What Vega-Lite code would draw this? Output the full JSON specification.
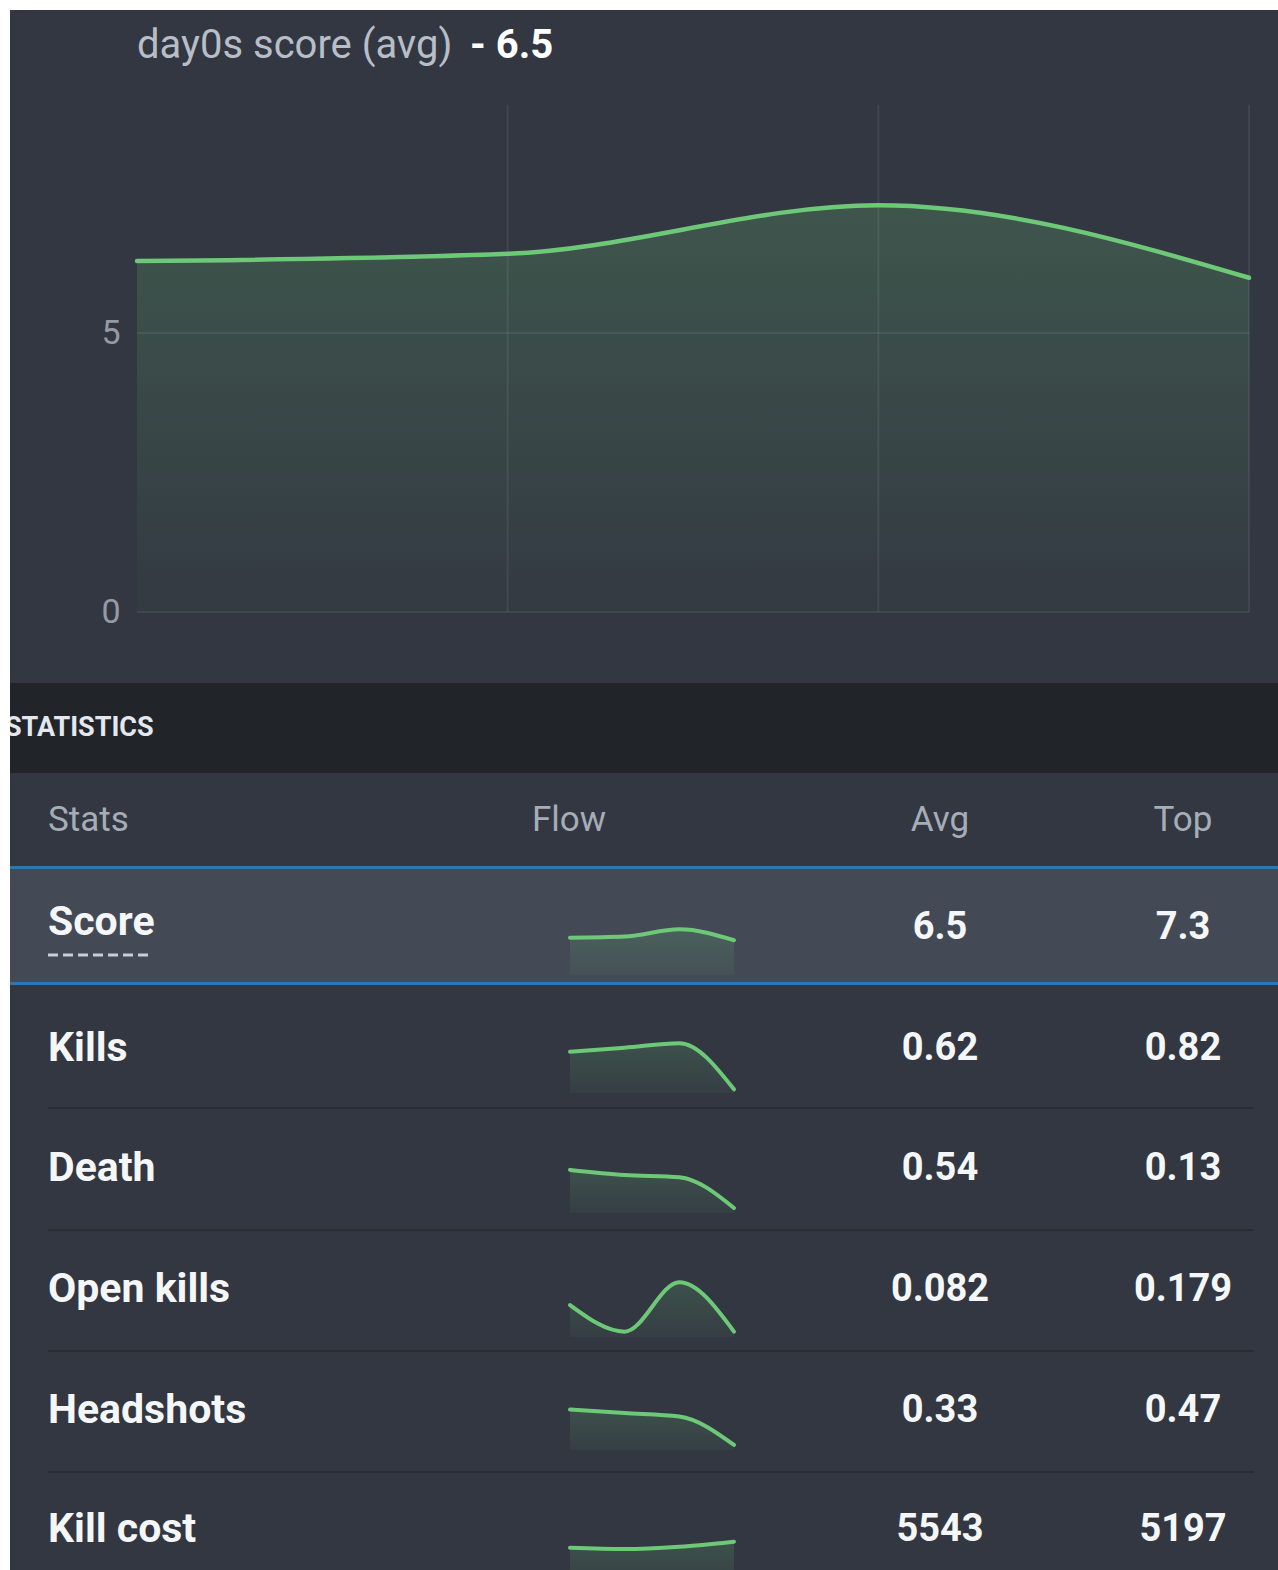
{
  "$schema": "https://vega.github.io/schema/vega-lite/v6.json",
  "background": "#ffffff",
  "padding": {"left": 8, "top": 10, "right": 0, "bottom": 0},
  "spacing": 0,
  "config": {"view": {"stroke": null, "fill": "#323741"}, "concat": {"spacing": 0}},
  "datasets": {
    "heading": [{"name": "day0s score (avg)", "value": "- 6.5"}],
    "score": [{"i": 0, "v": 6.29}, {"i": 1, "v": 6.42}, {"i": 2, "v": 7.29}, {"i": 3, "v": 5.99}],
    "vgrid": [{"g": 1}, {"g": 2}, {"g": 3}],
    "hgrid": [{"h": 0}, {"h": 5}],
    "section": [{"label": "STATISTICS"}],
    "header": [{"stats": "Stats", "flow": "Flow", "avg": "Avg", "top": "Top"}],
    "stats": [
      {"stat": "Score", "avg": "6.5", "top": "7.3"},
      {"stat": "Kills", "avg": "0.62", "top": "0.82"},
      {"stat": "Death", "avg": "0.54", "top": "0.13"},
      {"stat": "Open kills", "avg": "0.082", "top": "0.179"},
      {"stat": "Headshots", "avg": "0.33", "top": "0.47"},
      {"stat": "Kill cost", "avg": "5543", "top": "5197"}
    ],
    "flow": [
      {"stat": "Kills", "i": 0, "v": 0.73}, {"stat": "Kills", "i": 1, "v": 0.8}, {"stat": "Kills", "i": 2, "v": 0.88}, {"stat": "Kills", "i": 3, "v": 0.065},
      {"stat": "Death", "i": 0, "v": 0.77}, {"stat": "Death", "i": 1, "v": 0.68}, {"stat": "Death", "i": 2, "v": 0.64}, {"stat": "Death", "i": 3, "v": 0.09},
      {"stat": "Open kills", "i": 0, "v": 0.108}, {"stat": "Open kills", "i": 1, "v": 0.018}, {"stat": "Open kills", "i": 2, "v": 0.185}, {"stat": "Open kills", "i": 3, "v": 0.018},
      {"stat": "Headshots", "i": 0, "v": 0.46}, {"stat": "Headshots", "i": 1, "v": 0.42}, {"stat": "Headshots", "i": 2, "v": 0.38}, {"stat": "Headshots", "i": 3, "v": 0.057},
      {"stat": "Kill cost", "i": 0, "v": 5365}, {"stat": "Kill cost", "i": 1, "v": 5200}, {"stat": "Kill cost", "i": 2, "v": 5492}, {"stat": "Kill cost", "i": 3, "v": 6126}
    ]
  },
  "vconcat": [
    {
      "width": 1270, "height": 673,
      "layer": [
        {
          "data": {"name": "score"},
          "mark": {"type": "area", "interpolate": "monotone", "color": {"gradient": "linear", "x1": 0, "y1": 0, "x2": 0, "y2": 1, "stops": [{"offset": 0, "color": "rgba(108,199,119,0.21)"}, {"offset": 1, "color": "rgba(108,199,119,0.02)"}]}},
          "encoding": {
            "x": {"field": "i", "type": "quantitative", "scale": {"domain": [-0.3426, 3.0836], "nice": false, "zero": false}, "axis": null},
            "y": {"field": "v", "type": "quantitative", "scale": {"domain": [-1.272, 10.789], "nice": false, "zero": false}, "axis": {"values": [0, 5], "offset": -127, "labelPadding": 17, "ticks": false, "domain": false, "grid": false, "title": null, "labelFont": "Roboto", "labelFontSize": 34, "labelColor": "#949ba5"}},
            "y2": {"datum": 0}
          }
        },
        {
          "data": {"name": "hgrid"},
          "mark": {"type": "rule", "color": "#ffffff", "opacity": 0.07, "strokeWidth": 2},
          "encoding": {
            "y": {"field": "h", "type": "quantitative", "axis": {"values": [0, 5], "offset": -127, "labelPadding": 17, "ticks": false, "domain": false, "grid": false, "title": null, "labelFont": "Roboto", "labelFontSize": 34, "labelColor": "#949ba5"}},
            "x": {"datum": 0, "axis": null},
            "x2": {"datum": 3}
          }
        },
        {
          "data": {"name": "vgrid"},
          "mark": {"type": "rule", "color": "#ffffff", "opacity": 0.07, "strokeWidth": 2},
          "encoding": {
            "x": {"field": "g", "type": "quantitative", "axis": null},
            "y": {"datum": 0, "axis": {"values": [0, 5], "offset": -127, "labelPadding": 17, "ticks": false, "domain": false, "grid": false, "title": null, "labelFont": "Roboto", "labelFontSize": 34, "labelColor": "#949ba5"}},
            "y2": {"datum": 9.09}
          }
        },
        {
          "data": {"name": "score"},
          "mark": {"type": "line", "interpolate": "monotone", "color": "#6dc878", "strokeWidth": 4.5, "strokeCap": "round"},
          "encoding": {
            "x": {"field": "i", "type": "quantitative", "axis": null},
            "y": {"field": "v", "type": "quantitative", "axis": {"values": [0, 5], "offset": -127, "labelPadding": 17, "ticks": false, "domain": false, "grid": false, "title": null, "labelFont": "Roboto", "labelFontSize": 34, "labelColor": "#949ba5"}}
          }
        },
        {
          "data": {"name": "heading"},
          "mark": {"type": "text", "align": "left", "baseline": "alphabetic", "font": "Roboto", "fontSize": 40, "color": "#b8bec7"},
          "encoding": {
            "x": {"datum": 0, "axis": null},
            "y": {"datum": 9.92, "axis": {"values": [0, 5], "offset": -127, "labelPadding": 17, "ticks": false, "domain": false, "grid": false, "title": null, "labelFont": "Roboto", "labelFontSize": 34, "labelColor": "#949ba5"}},
            "text": {"field": "name"}
          }
        },
        {
          "data": {"name": "heading"},
          "mark": {"type": "text", "align": "left", "baseline": "alphabetic", "dx": 333, "font": "Roboto", "fontSize": 40, "fontWeight": "bold", "color": "#ffffff"},
          "encoding": {
            "x": {"datum": 0, "axis": null},
            "y": {"datum": 9.92, "axis": {"values": [0, 5], "offset": -127, "labelPadding": 17, "ticks": false, "domain": false, "grid": false, "title": null, "labelFont": "Roboto", "labelFontSize": 34, "labelColor": "#949ba5"}},
            "text": {"field": "value"}
          }
        }
      ]
    },
    {
      "width": 1270, "height": 90,
      "view": {"fill": "#212429", "stroke": null},
      "data": {"name": "section"},
      "mark": {"type": "text", "align": "left", "baseline": "middle", "dy": 0, "clip": true, "font": "Roboto", "fontSize": 27, "fontWeight": "bold", "color": "#e4e8ee"},
      "encoding": {
        "x": {"datum": 0, "type": "quantitative", "scale": {"domain": [0, 1], "range": [-5, 1265], "nice": false, "zero": false}, "axis": null},
        "text": {"field": "label"}
      }
    },
    {
      "width": 1270, "height": 93,
      "data": {"name": "header"},
      "layer": [
        {"mark": {"type": "text", "align": "left", "baseline": "middle", "dy": 0, "font": "Roboto", "fontSize": 35, "color": "#a6adb7"},
         "encoding": {"x": {"datum": 0, "type": "quantitative", "scale": {"domain": [0, 1, 2, 3, 4], "range": [38, 522, 930, 1173, 1244], "nice": false, "zero": false}, "axis": null}, "text": {"field": "stats"}}},
        {"mark": {"type": "text", "align": "left", "baseline": "middle", "dy": 0, "font": "Roboto", "fontSize": 35, "color": "#a6adb7"},
         "encoding": {"x": {"datum": 1, "type": "quantitative", "axis": null}, "text": {"field": "flow"}}},
        {"mark": {"type": "text", "align": "center", "baseline": "middle", "dy": 0, "font": "Roboto", "fontSize": 35, "color": "#a6adb7"},
         "encoding": {"x": {"datum": 2, "type": "quantitative", "axis": null}, "text": {"field": "avg"}}},
        {"mark": {"type": "text", "align": "center", "baseline": "middle", "dy": 0, "font": "Roboto", "fontSize": 35, "color": "#a6adb7"},
         "encoding": {"x": {"datum": 3, "type": "quantitative", "axis": null}, "text": {"field": "top"}}}
      ]
    },
    {
      "width": 1270, "height": 3,
      "view": {"fill": "#2c78b4", "stroke": null},
      "data": {"values": [{"line": "top"}]},
      "mark": {"type": "rule", "color": "#2c78b4", "strokeWidth": 3},
      "encoding": {"x": {"datum": 0, "type": "quantitative", "scale": {"domain": [0, 1], "range": [0, 1270]}, "axis": null}, "x2": {"datum": 1}}
    },
    {
      "width": 1270, "height": 113,
      "view": {"fill": "#434a55", "stroke": null},
      "layer": [
        {"data": {"name": "stats"}, "transform": [{"filter": "datum.stat === 'Score'"}],
         "mark": {"type": "text", "align": "left", "baseline": "middle", "dy": -3, "font": "Roboto", "fontSize": 41, "fontWeight": "bold", "color": "#f4f6f8"},
         "encoding": {"x": {"datum": 0, "type": "quantitative", "scale": {"domain": [0, 1, 2, 3, 4], "range": [38, 522, 930, 1173, 1244], "nice": false, "zero": false}, "axis": null}, "text": {"field": "stat"}}},
        {"data": {"name": "stats"}, "transform": [{"filter": "datum.stat === 'Score'"}],
         "mark": {"type": "text", "align": "center", "baseline": "middle", "dy": 2, "font": "Roboto", "fontSize": 38, "fontWeight": "bold", "color": "#f4f6f8"},
         "encoding": {"x": {"datum": 2, "type": "quantitative", "scale": {"domain": [0, 1, 2, 3, 4], "range": [38, 522, 930, 1173, 1244], "nice": false, "zero": false}, "axis": null}, "text": {"field": "avg"}}},
        {"data": {"name": "stats"}, "transform": [{"filter": "datum.stat === 'Score'"}],
         "mark": {"type": "text", "align": "center", "baseline": "middle", "dy": 2, "font": "Roboto", "fontSize": 38, "fontWeight": "bold", "color": "#f4f6f8"},
         "encoding": {"x": {"datum": 3, "type": "quantitative", "scale": {"domain": [0, 1, 2, 3, 4], "range": [38, 522, 930, 1173, 1244], "nice": false, "zero": false}, "axis": null}, "text": {"field": "top"}}},
        {"data": {"name": "stats"}, "transform": [{"filter": "datum.stat === 'Score'"}],
         "mark": {"type": "rule", "color": "#c9ced6", "strokeWidth": 3, "strokeDash": [10, 5]},
         "encoding": {"x": {"datum": 0, "type": "quantitative", "scale": {"domain": [0, 1], "range": [38, 142], "nice": false, "zero": false}, "axis": null}, "x2": {"datum": 1},
                      "y": {"datum": 0, "type": "quantitative", "scale": {"domain": [0, 1], "range": [86, 0], "nice": false, "zero": false}, "axis": null}}},
        {"data": {"name": "score"},
         "mark": {"type": "area", "interpolate": "monotone", "color": {"gradient": "linear", "x1": 0, "y1": 0, "x2": 0, "y2": 1, "stops": [{"offset": 0, "color": "rgba(108,199,119,0.18)"}, {"offset": 1, "color": "rgba(108,199,119,0.05)"}]}},
         "encoding": {"x": {"field": "i", "type": "quantitative", "scale": {"domain": [0, 3], "range": [560, 724], "nice": false, "zero": false}, "axis": null},
                      "y": {"field": "v", "type": "quantitative", "scale": {"domain": [1.85, 7.29], "range": [106, 60.3], "nice": false, "zero": false}, "axis": null},
                      "y2": {"datum": 1.85}}},
        {"data": {"name": "score"},
         "mark": {"type": "line", "interpolate": "monotone", "color": "#6dc878", "strokeWidth": 4, "strokeCap": "round"},
         "encoding": {"x": {"field": "i", "type": "quantitative", "scale": {"domain": [0, 3], "range": [560, 724], "nice": false, "zero": false}, "axis": null},
                      "y": {"field": "v", "type": "quantitative", "scale": {"domain": [1.85, 7.29], "range": [106, 60.3], "nice": false, "zero": false}, "axis": null}}}
      ],
      "resolve": {"scale": {"x": "independent", "y": "independent"}}
    },
    {
      "width": 1270, "height": 3,
      "view": {"fill": "#2c78b4", "stroke": null},
      "data": {"values": [{"line": "bottom"}]},
      "mark": {"type": "rule", "color": "#2c78b4", "strokeWidth": 3},
      "encoding": {"x": {"datum": 0, "type": "quantitative", "scale": {"domain": [0, 1], "range": [0, 1270]}, "axis": null}, "x2": {"datum": 1}}
    },
    {
      "width": 1270, "height": 122,
      "layer": [
        {"data": {"name": "stats"}, "transform": [{"filter": "datum.stat === 'Kills'"}],
         "mark": {"type": "text", "align": "left", "baseline": "middle", "dy": 3, "font": "Roboto", "fontSize": 41, "fontWeight": "bold", "color": "#f4f6f8"},
         "encoding": {"x": {"datum": 0, "type": "quantitative", "scale": {"domain": [0, 1, 2, 3, 4], "range": [38, 522, 930, 1173, 1244], "nice": false, "zero": false}, "axis": null}, "text": {"field": "stat"}}},
        {"data": {"name": "stats"}, "transform": [{"filter": "datum.stat === 'Kills'"}],
         "mark": {"type": "text", "align": "center", "baseline": "middle", "dy": 3, "font": "Roboto", "fontSize": 38, "fontWeight": "bold", "color": "#f4f6f8"},
         "encoding": {"x": {"datum": 2, "type": "quantitative", "scale": {"domain": [0, 1, 2, 3, 4], "range": [38, 522, 930, 1173, 1244], "nice": false, "zero": false}, "axis": null}, "text": {"field": "avg"}}},
        {"data": {"name": "stats"}, "transform": [{"filter": "datum.stat === 'Kills'"}],
         "mark": {"type": "text", "align": "center", "baseline": "middle", "dy": 3, "font": "Roboto", "fontSize": 38, "fontWeight": "bold", "color": "#f4f6f8"},
         "encoding": {"x": {"datum": 3, "type": "quantitative", "scale": {"domain": [0, 1, 2, 3, 4], "range": [38, 522, 930, 1173, 1244], "nice": false, "zero": false}, "axis": null}, "text": {"field": "top"}}},
        {"data": {"name": "flow"}, "transform": [{"filter": "datum.stat === 'Kills'"}],
         "mark": {"type": "area", "interpolate": "monotone", "color": {"gradient": "linear", "x1": 0, "y1": 0, "x2": 0, "y2": 1, "stops": [{"offset": 0, "color": "rgba(108,199,119,0.18)"}, {"offset": 1, "color": "rgba(108,199,119,0.05)"}]}},
         "encoding": {"x": {"field": "i", "type": "quantitative", "scale": {"domain": [0, 3], "range": [560, 724], "nice": false, "zero": false}, "axis": null},
                      "y": {"field": "v", "type": "quantitative", "scale": {"domain": [0, 1], "range": [108, 51.4], "nice": false, "zero": false}, "axis": null},
                      "y2": {"datum": 0}}},
        {"data": {"name": "flow"}, "transform": [{"filter": "datum.stat === 'Kills'"}],
         "mark": {"type": "line", "interpolate": "monotone", "color": "#6dc878", "strokeWidth": 4, "strokeCap": "round"},
         "encoding": {"x": {"field": "i", "type": "quantitative", "scale": {"domain": [0, 3], "range": [560, 724], "nice": false, "zero": false}, "axis": null},
                      "y": {"field": "v", "type": "quantitative", "scale": {"domain": [0, 1], "range": [108, 51.4], "nice": false, "zero": false}, "axis": null}}}
      ],
      "resolve": {"scale": {"x": "independent", "y": "independent"}}
    },
    {
      "width": 1270, "height": 2,
      "data": {"values": [{"sep": 1}]},
      "mark": {"type": "rule", "color": "#292d34", "strokeWidth": 2},
      "encoding": {"x": {"datum": 0, "type": "quantitative", "scale": {"domain": [0, 1, 2, 3, 4], "range": [38, 522, 930, 1173, 1244], "nice": false, "zero": false}, "axis": null}, "x2": {"datum": 4}}
    },
    {
      "width": 1270, "height": 120,
      "layer": [
        {"data": {"name": "stats"}, "transform": [{"filter": "datum.stat === 'Death'"}],
         "mark": {"type": "text", "align": "left", "baseline": "middle", "dy": 0, "font": "Roboto", "fontSize": 41, "fontWeight": "bold", "color": "#f4f6f8"},
         "encoding": {"x": {"datum": 0, "type": "quantitative", "scale": {"domain": [0, 1, 2, 3, 4], "range": [38, 522, 930, 1173, 1244], "nice": false, "zero": false}, "axis": null}, "text": {"field": "stat"}}},
        {"data": {"name": "stats"}, "transform": [{"filter": "datum.stat === 'Death'"}],
         "mark": {"type": "text", "align": "center", "baseline": "middle", "dy": 0, "font": "Roboto", "fontSize": 38, "fontWeight": "bold", "color": "#f4f6f8"},
         "encoding": {"x": {"datum": 2, "type": "quantitative", "scale": {"domain": [0, 1, 2, 3, 4], "range": [38, 522, 930, 1173, 1244], "nice": false, "zero": false}, "axis": null}, "text": {"field": "avg"}}},
        {"data": {"name": "stats"}, "transform": [{"filter": "datum.stat === 'Death'"}],
         "mark": {"type": "text", "align": "center", "baseline": "middle", "dy": 0, "font": "Roboto", "fontSize": 38, "fontWeight": "bold", "color": "#f4f6f8"},
         "encoding": {"x": {"datum": 3, "type": "quantitative", "scale": {"domain": [0, 1, 2, 3, 4], "range": [38, 522, 930, 1173, 1244], "nice": false, "zero": false}, "axis": null}, "text": {"field": "top"}}},
        {"data": {"name": "flow"}, "transform": [{"filter": "datum.stat === 'Death'"}],
         "mark": {"type": "area", "interpolate": "monotone", "color": {"gradient": "linear", "x1": 0, "y1": 0, "x2": 0, "y2": 1, "stops": [{"offset": 0, "color": "rgba(108,199,119,0.18)"}, {"offset": 1, "color": "rgba(108,199,119,0.05)"}]}},
         "encoding": {"x": {"field": "i", "type": "quantitative", "scale": {"domain": [0, 3], "range": [560, 724], "nice": false, "zero": false}, "axis": null},
                      "y": {"field": "v", "type": "quantitative", "scale": {"domain": [0, 1], "range": [104, 48], "nice": false, "zero": false}, "axis": null},
                      "y2": {"datum": 0}}},
        {"data": {"name": "flow"}, "transform": [{"filter": "datum.stat === 'Death'"}],
         "mark": {"type": "line", "interpolate": "monotone", "color": "#6dc878", "strokeWidth": 4, "strokeCap": "round"},
         "encoding": {"x": {"field": "i", "type": "quantitative", "scale": {"domain": [0, 3], "range": [560, 724], "nice": false, "zero": false}, "axis": null},
                      "y": {"field": "v", "type": "quantitative", "scale": {"domain": [0, 1], "range": [104, 48], "nice": false, "zero": false}, "axis": null}}}
      ],
      "resolve": {"scale": {"x": "independent", "y": "independent"}}
    },
    {
      "width": 1270, "height": 2,
      "data": {"values": [{"sep": 2}]},
      "mark": {"type": "rule", "color": "#292d34", "strokeWidth": 2},
      "encoding": {"x": {"datum": 0, "type": "quantitative", "scale": {"domain": [0, 1, 2, 3, 4], "range": [38, 522, 930, 1173, 1244], "nice": false, "zero": false}, "axis": null}, "x2": {"datum": 4}}
    },
    {
      "width": 1270, "height": 119,
      "layer": [
        {"data": {"name": "stats"}, "transform": [{"filter": "datum.stat === 'Open kills'"}],
         "mark": {"type": "text", "align": "left", "baseline": "middle", "dy": -1, "font": "Roboto", "fontSize": 41, "fontWeight": "bold", "color": "#f4f6f8"},
         "encoding": {"x": {"datum": 0, "type": "quantitative", "scale": {"domain": [0, 1, 2, 3, 4], "range": [38, 522, 930, 1173, 1244], "nice": false, "zero": false}, "axis": null}, "text": {"field": "stat"}}},
        {"data": {"name": "stats"}, "transform": [{"filter": "datum.stat === 'Open kills'"}],
         "mark": {"type": "text", "align": "center", "baseline": "middle", "dy": -1, "font": "Roboto", "fontSize": 38, "fontWeight": "bold", "color": "#f4f6f8"},
         "encoding": {"x": {"datum": 2, "type": "quantitative", "scale": {"domain": [0, 1, 2, 3, 4], "range": [38, 522, 930, 1173, 1244], "nice": false, "zero": false}, "axis": null}, "text": {"field": "avg"}}},
        {"data": {"name": "stats"}, "transform": [{"filter": "datum.stat === 'Open kills'"}],
         "mark": {"type": "text", "align": "center", "baseline": "middle", "dy": -1, "font": "Roboto", "fontSize": 38, "fontWeight": "bold", "color": "#f4f6f8"},
         "encoding": {"x": {"datum": 3, "type": "quantitative", "scale": {"domain": [0, 1, 2, 3, 4], "range": [38, 522, 930, 1173, 1244], "nice": false, "zero": false}, "axis": null}, "text": {"field": "top"}}},
        {"data": {"name": "flow"}, "transform": [{"filter": "datum.stat === 'Open kills'"}],
         "mark": {"type": "area", "interpolate": "monotone", "color": {"gradient": "linear", "x1": 0, "y1": 0, "x2": 0, "y2": 1, "stops": [{"offset": 0, "color": "rgba(108,199,119,0.18)"}, {"offset": 1, "color": "rgba(108,199,119,0.05)"}]}},
         "encoding": {"x": {"field": "i", "type": "quantitative", "scale": {"domain": [0, 3], "range": [560, 724], "nice": false, "zero": false}, "axis": null},
                      "y": {"field": "v", "type": "quantitative", "scale": {"domain": [0, 0.2], "range": [106, 46.8], "nice": false, "zero": false}, "axis": null},
                      "y2": {"datum": 0}}},
        {"data": {"name": "flow"}, "transform": [{"filter": "datum.stat === 'Open kills'"}],
         "mark": {"type": "line", "interpolate": "monotone", "color": "#6dc878", "strokeWidth": 4, "strokeCap": "round"},
         "encoding": {"x": {"field": "i", "type": "quantitative", "scale": {"domain": [0, 3], "range": [560, 724], "nice": false, "zero": false}, "axis": null},
                      "y": {"field": "v", "type": "quantitative", "scale": {"domain": [0, 0.2], "range": [106, 46.8], "nice": false, "zero": false}, "axis": null}}}
      ],
      "resolve": {"scale": {"x": "independent", "y": "independent"}}
    },
    {
      "width": 1270, "height": 2,
      "data": {"values": [{"sep": 3}]},
      "mark": {"type": "rule", "color": "#292d34", "strokeWidth": 2},
      "encoding": {"x": {"datum": 0, "type": "quantitative", "scale": {"domain": [0, 1, 2, 3, 4], "range": [38, 522, 930, 1173, 1244], "nice": false, "zero": false}, "axis": null}, "x2": {"datum": 4}}
    },
    {
      "width": 1270, "height": 119,
      "layer": [
        {"data": {"name": "stats"}, "transform": [{"filter": "datum.stat === 'Headshots'"}],
         "mark": {"type": "text", "align": "left", "baseline": "middle", "dy": -1, "font": "Roboto", "fontSize": 41, "fontWeight": "bold", "color": "#f4f6f8"},
         "encoding": {"x": {"datum": 0, "type": "quantitative", "scale": {"domain": [0, 1, 2, 3, 4], "range": [38, 522, 930, 1173, 1244], "nice": false, "zero": false}, "axis": null}, "text": {"field": "stat"}}},
        {"data": {"name": "stats"}, "transform": [{"filter": "datum.stat === 'Headshots'"}],
         "mark": {"type": "text", "align": "center", "baseline": "middle", "dy": -1, "font": "Roboto", "fontSize": 38, "fontWeight": "bold", "color": "#f4f6f8"},
         "encoding": {"x": {"datum": 2, "type": "quantitative", "scale": {"domain": [0, 1, 2, 3, 4], "range": [38, 522, 930, 1173, 1244], "nice": false, "zero": false}, "axis": null}, "text": {"field": "avg"}}},
        {"data": {"name": "stats"}, "transform": [{"filter": "datum.stat === 'Headshots'"}],
         "mark": {"type": "text", "align": "center", "baseline": "middle", "dy": -1, "font": "Roboto", "fontSize": 38, "fontWeight": "bold", "color": "#f4f6f8"},
         "encoding": {"x": {"datum": 3, "type": "quantitative", "scale": {"domain": [0, 1, 2, 3, 4], "range": [38, 522, 930, 1173, 1244], "nice": false, "zero": false}, "axis": null}, "text": {"field": "top"}}},
        {"data": {"name": "flow"}, "transform": [{"filter": "datum.stat === 'Headshots'"}],
         "mark": {"type": "area", "interpolate": "monotone", "color": {"gradient": "linear", "x1": 0, "y1": 0, "x2": 0, "y2": 1, "stops": [{"offset": 0, "color": "rgba(108,199,119,0.18)"}, {"offset": 1, "color": "rgba(108,199,119,0.05)"}]}},
         "encoding": {"x": {"field": "i", "type": "quantitative", "scale": {"domain": [0, 3], "range": [560, 724], "nice": false, "zero": false}, "axis": null},
                      "y": {"field": "v", "type": "quantitative", "scale": {"domain": [0, 0.5], "range": [98, 54], "nice": false, "zero": false}, "axis": null},
                      "y2": {"datum": 0}}},
        {"data": {"name": "flow"}, "transform": [{"filter": "datum.stat === 'Headshots'"}],
         "mark": {"type": "line", "interpolate": "monotone", "color": "#6dc878", "strokeWidth": 4, "strokeCap": "round"},
         "encoding": {"x": {"field": "i", "type": "quantitative", "scale": {"domain": [0, 3], "range": [560, 724], "nice": false, "zero": false}, "axis": null},
                      "y": {"field": "v", "type": "quantitative", "scale": {"domain": [0, 0.5], "range": [98, 54], "nice": false, "zero": false}, "axis": null}}}
      ],
      "resolve": {"scale": {"x": "independent", "y": "independent"}}
    },
    {
      "width": 1270, "height": 2,
      "data": {"values": [{"sep": 4}]},
      "mark": {"type": "rule", "color": "#292d34", "strokeWidth": 2},
      "encoding": {"x": {"datum": 0, "type": "quantitative", "scale": {"domain": [0, 1, 2, 3, 4], "range": [38, 522, 930, 1173, 1244], "nice": false, "zero": false}, "axis": null}, "x2": {"datum": 4}}
    },
    {
      "width": 1270, "height": 97,
      "layer": [
        {"data": {"name": "stats"}, "transform": [{"filter": "datum.stat === 'Kill cost'"}],
         "mark": {"type": "text", "align": "left", "baseline": "middle", "dy": 8, "font": "Roboto", "fontSize": 41, "fontWeight": "bold", "color": "#f4f6f8"},
         "encoding": {"x": {"datum": 0, "type": "quantitative", "scale": {"domain": [0, 1, 2, 3, 4], "range": [38, 522, 930, 1173, 1244], "nice": false, "zero": false}, "axis": null}, "text": {"field": "stat"}}},
        {"data": {"name": "stats"}, "transform": [{"filter": "datum.stat === 'Kill cost'"}],
         "mark": {"type": "text", "align": "center", "baseline": "middle", "dy": 8, "font": "Roboto", "fontSize": 38, "fontWeight": "bold", "color": "#f4f6f8"},
         "encoding": {"x": {"datum": 2, "type": "quantitative", "scale": {"domain": [0, 1, 2, 3, 4], "range": [38, 522, 930, 1173, 1244], "nice": false, "zero": false}, "axis": null}, "text": {"field": "avg"}}},
        {"data": {"name": "stats"}, "transform": [{"filter": "datum.stat === 'Kill cost'"}],
         "mark": {"type": "text", "align": "center", "baseline": "middle", "dy": 8, "font": "Roboto", "fontSize": 38, "fontWeight": "bold", "color": "#f4f6f8"},
         "encoding": {"x": {"datum": 3, "type": "quantitative", "scale": {"domain": [0, 1, 2, 3, 4], "range": [38, 522, 930, 1173, 1244], "nice": false, "zero": false}, "axis": null}, "text": {"field": "top"}}},
        {"data": {"name": "flow"}, "transform": [{"filter": "datum.stat === 'Kill cost'"}],
         "mark": {"type": "area", "clip": true, "interpolate": "monotone", "color": {"gradient": "linear", "x1": 0, "y1": 0, "x2": 0, "y2": 1, "stops": [{"offset": 0, "color": "rgba(108,199,119,0.18)"}, {"offset": 1, "color": "rgba(108,199,119,0.05)"}]}},
         "encoding": {"x": {"field": "i", "type": "quantitative", "scale": {"domain": [0, 3], "range": [560, 724], "nice": false, "zero": false}, "axis": null},
                      "y": {"field": "v", "type": "quantitative", "scale": {"domain": [0, 6000], "range": [117, 69.7], "nice": false, "zero": false}, "axis": null},
                      "y2": {"datum": 0}}},
        {"data": {"name": "flow"}, "transform": [{"filter": "datum.stat === 'Kill cost'"}],
         "mark": {"type": "line", "interpolate": "monotone", "color": "#6dc878", "strokeWidth": 4, "strokeCap": "round"},
         "encoding": {"x": {"field": "i", "type": "quantitative", "scale": {"domain": [0, 3], "range": [560, 724], "nice": false, "zero": false}, "axis": null},
                      "y": {"field": "v", "type": "quantitative", "scale": {"domain": [0, 6000], "range": [117, 69.7], "nice": false, "zero": false}, "axis": null}}}
      ],
      "resolve": {"scale": {"x": "independent", "y": "independent"}}
    }
  ]
}
